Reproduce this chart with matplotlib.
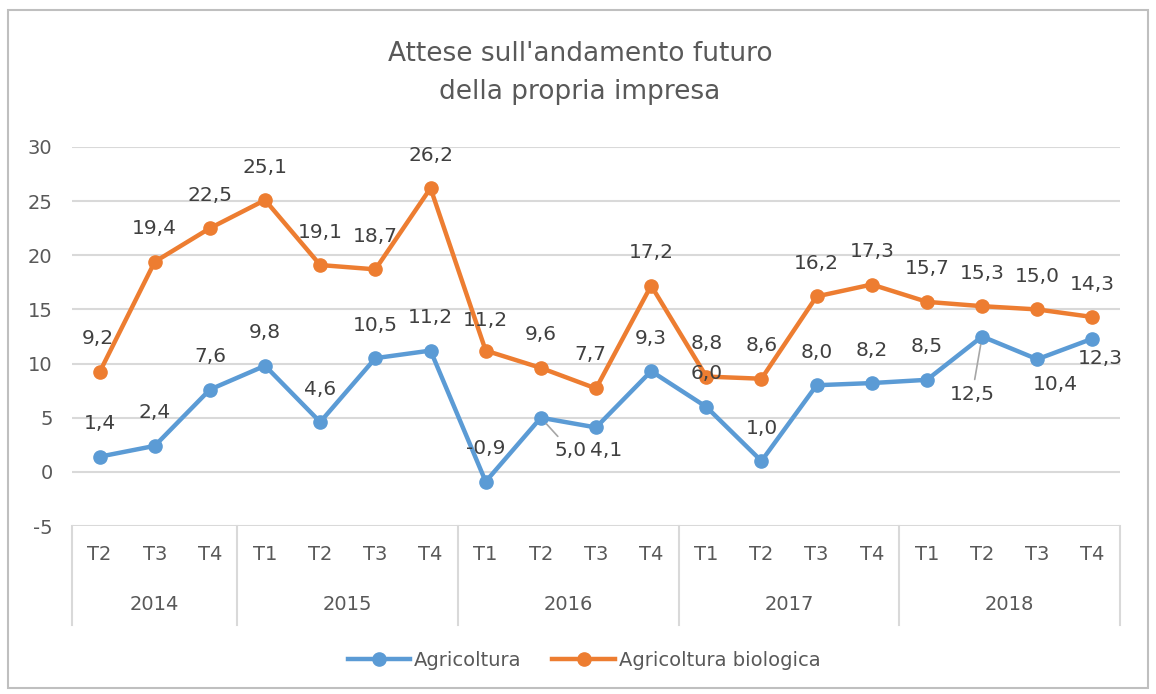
import matplotlib
matplotlib.use("Agg")
import matplotlib.pyplot as plt
from matplotlib.patches import Rectangle
from matplotlib.lines import Line2D

# data
years = ["2014", "2015", "2016", "2017", "2018"]
quarters = ["T2", "T3", "T4",
            "T1", "T2", "T3", "T4",
            "T1", "T2", "T3", "T4",
            "T1", "T2", "T3", "T4",
            "T1", "T2", "T3", "T4"]
quarters_per_year = [3, 4, 4, 4, 4]
agricoltura = [1.4, 2.4, 7.6, 9.8, 4.6, 10.5, 11.2, -0.9, 5.0, 4.1, 9.3,
               6.0, 1.0, 8.0, 8.2, 8.5, 12.5, 10.4, 12.3]
biologica = [9.2, 19.4, 22.5, 25.1, 19.1, 18.7, 26.2, 11.2, 9.6, 7.7, 17.2,
             8.8, 8.6, 16.2, 17.3, 15.7, 15.3, 15.0, 14.3]

BLUE = "#5B9BD5"
ORANGE = "#ED7D31"
GRID = "#D9D9D9"
TXT = "#595959"
LBL = "#404040"

plt.rcParams['font.family'] = ['DejaVu Sans']
plt.rcParams['axes.unicode_minus'] = False

fig = plt.figure(figsize=(11.56, 6.94), dpi=100)
W, H = 1156, 694
ax = fig.add_axes([72 / W, 1 - 526 / H, (1120 - 72) / W, (526 - 147) / H])

x = list(range(len(quarters)))
ax.plot(x, agricoltura, color=BLUE, lw=3.2, marker="o", ms=9.5, zorder=3)
ax.plot(x, biologica, color=ORANGE, lw=3.2, marker="o", ms=9.5, zorder=3)

ax.set_xlim(-0.5, len(quarters) - 0.5)
ax.set_ylim(-5, 30)
ax.set_yticks(range(-5, 31, 5))
ax.yaxis.grid(True, color=GRID, lw=1.5)
ax.set_axisbelow(True)
for s in ax.spines.values():
    s.set_visible(False)
ax.tick_params(axis="y", length=0, pad=14, labelsize=14, labelcolor=TXT)
ax.set_xticks([])


def fmt(v):
    return f"{v:.1f}".replace(".", ",")


# label offsets in pixels (dx, dy), default is above the point
off_agri = {8: (30, -33), 9: (10, -23), 16: (-10, -58), 17: (18, -25), 18: (8, -20)}
leader_agri = [8, 16]
off_bio = {0: (-2, 34), 7: (0, 30), 9: (-6, 34)}

for i, v in enumerate(agricoltura):
    dx, dy = off_agri.get(i, (0, 33))
    arrow = None
    if i in leader_agri:
        arrow = dict(arrowstyle="-", color="#A6A6A6", lw=1.2, shrinkA=2, shrinkB=6)
    ax.annotate(fmt(v), (i, v), xytext=(dx, dy), textcoords="offset pixels",
                ha="center", va="center", fontsize=14.5, color=LBL,
                arrowprops=arrow, zorder=4)
for i, v in enumerate(biologica):
    dx, dy = off_bio.get(i, (0, 33))
    ax.annotate(fmt(v), (i, v), xytext=(dx, dy), textcoords="offset pixels",
                ha="center", va="center", fontsize=14.5, color=LBL, zorder=4)

# multi-level category axis
tr = ax.get_xaxis_transform()
ah = 526 - 147
for i, q in enumerate(quarters):
    ax.text(i, (526 - 555) / ah, q, transform=tr, ha="center", va="center",
            fontsize=14, color=TXT, clip_on=False)
start = -0.5
bounds = [start]
for y, n in zip(years, quarters_per_year):
    ax.text(start + n / 2, (526 - 605) / ah, y, transform=tr, ha="center",
            va="center", fontsize=14, color=TXT, clip_on=False)
    start += n
    bounds.append(start)
for b in bounds:
    ax.add_line(Line2D([b, b], [0, (526 - 625) / ah], transform=tr,
                       color=GRID, lw=1.5, clip_on=False))

fig.suptitle("Attese sull'andamento futuro\ndella propria impresa", x=580 / W,
             y=1 - 73 / H, va="center", fontsize=19, color=TXT, linespacing=1.6)

handles = [Line2D([], [], color=BLUE, lw=3.2, marker="o", ms=9.5),
           Line2D([], [], color=ORANGE, lw=3.2, marker="o", ms=9.5)]
fig.legend(handles, ["Agricoltura", "Agricoltura biologica"], loc="center",
           bbox_to_anchor=(584 / W, 1 - 660 / H), ncol=2, frameon=False,
           fontsize=14, handlelength=3.2, handletextpad=0.2, columnspacing=1.6,
           labelcolor=TXT)

# chart frame
fig.patches.append(Rectangle((8 / W, 6 / H), (1148 - 8) / W, (688 - 10) / H,
                             transform=fig.transFigure, fill=False,
                             edgecolor="#BFBFBF", lw=1.5))

fig.savefig("out.png", dpi=100)
